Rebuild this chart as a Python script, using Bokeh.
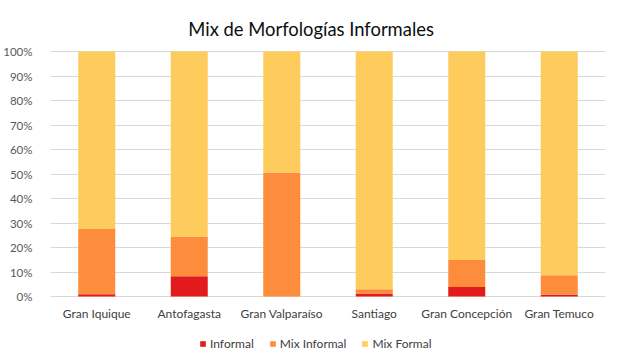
from bokeh.plotting import figure
from bokeh.models import ColumnDataSource, NumeralTickFormatter, FixedTicker, Legend, LegendItem, Label
from bokeh.embed import file_html
from bokeh.resources import INLINE

cities = ["Gran Iquique", "Antofagasta", "Gran Valparaíso", "Santiago", "Gran Concepción", "Gran Temuco"]
informal = [0.009, 0.083, 0.0, 0.012, 0.039, 0.007]
mix_informal = [0.267, 0.162, 0.506, 0.018, 0.110, 0.080]
mix_formal = [1 - a - b for a, b in zip(informal, mix_informal)]
series = ["informal", "mix_informal", "mix_formal"]
series_labels = ["Informal", "Mix Informal", "Mix Formal"]
colors = ["#E31A1C", "#FD8D3C", "#FECC5C"]
y_ticks = [0.0, 0.1, 0.2, 0.3, 0.4, 0.5, 0.6, 0.7, 0.8, 0.9, 1.0]
title_text = "Mix de Morfologías Informales"

source = ColumnDataSource(dict(city=cities, informal=informal,
                               mix_informal=mix_informal, mix_formal=mix_formal))

FONT = "Lato"
# layout: the frame covers the whole canvas height; 0..100% occupies 245 px
PX = 245.0
TOP_PAD = 51.0
FRAME_H = 351
y_end = 1 + TOP_PAD / PX
y_start = y_end - FRAME_H / PX

p = figure(x_range=cities, y_range=(y_start, y_end), frame_width=555, frame_height=FRAME_H,
           min_border_left=41, min_border_right=8, min_border_top=0, min_border_bottom=0,
           x_axis_location=None, output_backend="svg", toolbar_location=None)

renderers = p.vbar_stack(series, x="city", width=0.4, source=source, color=colors, line_color=None)

# category labels under the 0% line
p.text(x="city", y=-17 / PX, text="city", source=source, text_align="center",
       text_baseline="middle", text_font_size="12px", text_color="#404040",
       text_font={"value": FONT})

# chart title
p.add_layout(Label(x=260.6, x_units="screen", y=1 + 22.5 / PX, text=title_text,
                   text_align="center", text_baseline="middle", text_font=FONT,
                   text_font_size="18.4px", text_color="#0d0d0d"))

p.outline_line_color = None
p.background_fill_color = "white"
p.border_fill_color = "white"

p.xgrid.grid_line_color = None
p.ygrid.grid_line_color = "#D9D9D9"
p.ygrid.grid_line_width = 1
p.ygrid.ticker = FixedTicker(ticks=y_ticks)
p.yaxis.ticker = FixedTicker(ticks=y_ticks)
p.yaxis.formatter = NumeralTickFormatter(format="0%")
p.yaxis.axis_line_color = None
p.yaxis.major_tick_line_color = None
p.yaxis.minor_tick_line_color = None
p.yaxis.major_label_standoff = 12
p.yaxis.major_label_text_font = FONT
p.yaxis.major_label_text_font_size = "11.5px"
p.yaxis.major_label_text_color = "#595959"

legend = Legend(items=[LegendItem(label=l, renderers=[r]) for l, r in zip(series_labels, renderers)],
                orientation="horizontal", location=(149, 0),
                glyph_width=7, glyph_height=7, label_height=14, label_standoff=4, spacing=15,
                padding=0, margin=0, border_line_color=None, background_fill_alpha=0,
                label_text_font=FONT, label_text_font_size="12px", label_text_color="#404040")
p.add_layout(legend)

open("out.html", "w").write(file_html(p, INLINE))
